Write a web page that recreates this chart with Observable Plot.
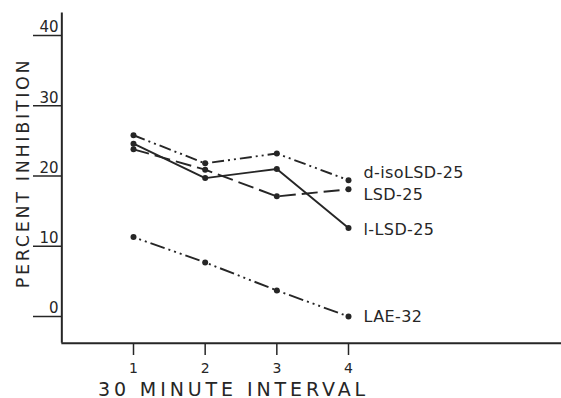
<!DOCTYPE html>
<html>
<head>
<meta charset="utf-8">
<script src="https://cdn.jsdelivr.net/npm/d3@7"></script>
<script src="https://cdn.jsdelivr.net/npm/@observablehq/plot@0.6"></script>
<style>
  html, body { margin: 0; padding: 0; background: #fff; }
</style>
</head>
<body>
<div id="chart"></div>
<script>
// ---- data ----
const intervals = [1, 2, 3, 4];
const seriesNames = ["d-isoLSD-25", "LSD-25", "l-LSD-25", "LAE-32"];
const dIsoLSD25 = [25.8, 21.8, 23.2, 19.4];
const lsd25 = [23.8, 20.9, 17.1, 18.1];
const lLsd25 = [24.6, 19.7, 21.0, 12.6];
const lae32 = [11.3, 7.7, 3.7, 0.0];
const yTicks = [0, 10, 20, 30, 40];
const xTicks = [1, 2, 3, 4];
const yTitle = "PERCENT INHIBITION";
const xTitle = "30 MINUTE INTERVAL";
const xAxisExtent = [0, 7];
const yAxisExtent = [-3.8, 43.2];

// ---- styles ----
const ink = "#262626";
const dashes = ["12,4,2,4,2,4", "16,6", null, "2,4,2,4,2,4,15,4"];
const labelDy = [-7, 6, 2, 0];

const allValues = [dIsoLSD25, lsd25, lLsd25, lae32];
const rows = [];
seriesNames.forEach((name, s) => {
  intervals.forEach((x, i) => rows.push({series: name, s, x, y: allValues[s][i]}));
});
const lastRows = rows.filter(d => d.x === intervals[intervals.length - 1]);

const lineMarks = seriesNames.map((name, s) =>
  Plot.line(rows.filter(d => d.s === s), {
    x: "x", y: "y", stroke: ink, strokeWidth: 1.9,
    strokeDasharray: dashes[s] || undefined, strokeLinecap: "butt"
  })
);

const labelMarks = seriesNames.map((name, s) =>
  Plot.text(lastRows.filter(d => d.s === s), {
    x: "x", y: "y", text: "series", dx: 15, dy: labelDy[s],
    textAnchor: "start", fill: ink, fontSize: 16,
    fontFamily: "DejaVu Sans"
  })
);

const chart = Plot.plot({
  width: 561,
  height: 398,
  marginLeft: 62,
  marginRight: 0,
  marginTop: 12,
  marginBottom: 55,
  style: {background: "#fff", fontFamily: "DejaVu Sans", color: ink},
  x: {domain: [1, 4], range: [133, 348]},
  y: {domain: [0, 40], range: [316, 35]},
  marks: [
    Plot.ruleX([xAxisExtent[0]], {y1: yAxisExtent[0], y2: yAxisExtent[1], stroke: ink, strokeWidth: 2}),
    Plot.ruleY([yAxisExtent[0]], {x1: xAxisExtent[0], x2: xAxisExtent[1], stroke: ink, strokeWidth: 2}),
    // y tick lines
    Plot.axisY({
      ticks: yTicks, tickSize: 29, tickFormat: () => "", label: null,
      stroke: ink, strokeWidth: 1.5
    }),
    // y tick labels sitting on the tick lines
    Plot.axisY({
      ticks: yTicks, tickSize: 0, tickPadding: 4, dy: -8,
      tickFormat: d => String(d), fontSize: 15, label: null, fill: ink
    }),
    Plot.axisX({
      ticks: xTicks, tickSize: 12, tickPadding: 8,
      tickFormat: d => String(d), fontSize: 14, label: null,
      stroke: ink, strokeWidth: 1.5, fill: ink
    }),
    ...lineMarks,
    Plot.dot(rows, {x: "x", y: "y", r: 3, fill: ink, stroke: "none"}),
    ...labelMarks,
    Plot.text([yTitle], {
      frameAnchor: "left", dx: -39, dy: -5, rotate: -90,
      text: d => d, fontSize: 17.5, fill: ink, textAnchor: "middle",
      fontFamily: "DejaVu Sans"
    }),
    Plot.text([xTitle], {
      frameAnchor: "bottom-left", dx: 171, dy: 52, lineAnchor: "bottom",
      text: d => d, fontSize: 19, fill: ink, textAnchor: "middle",
      fontFamily: "DejaVu Sans"
    })
  ]
});
// letter spacing for the hand-lettered look
d3.select(chart).selectAll("text").each(function() {
  const t = this.textContent;
  if (t === yTitle) this.style.letterSpacing = "2.7px";
  else if (t === xTitle) this.style.letterSpacing = "3.9px";
  else if (seriesNames.includes(t)) this.style.letterSpacing = "0.4px";
});
document.getElementById("chart").appendChild(chart);
</script>
</body>
</html>
